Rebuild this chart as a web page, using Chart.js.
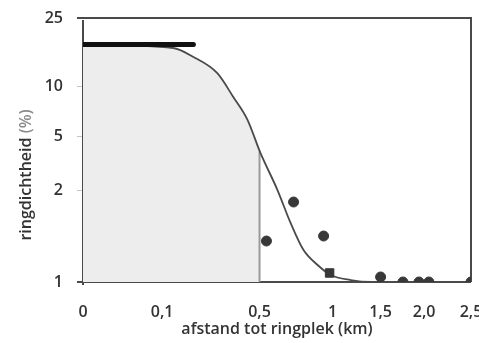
<!DOCTYPE html>
<html>
<head>
<meta charset="utf-8">
<script src="https://cdn.jsdelivr.net/npm/chart.js@4.4.1/dist/chart.umd.min.js"></script>
<style>
  html, body { margin: 0; padding: 0; background: #fff; }
  #wrap { width: 479px; height: 343px; }
</style>
</head>
<body>
<div id="wrap"><canvas id="c"></canvas></div>
<script>
// tick values and labels
const xTicks = [0, 0.1, 0.5, 1, 1.5, 2, 2.5]
const xTickLabels = ['0', '0,1', '0,5', '1', '1,5', '2,0', '2,5']
const yTicks = [1, 2, 5, 10, 25]
const yTickLabels = ['1', '2', '5', '10', '25']

// fitted curve (ringdichtheid vs afstand)
const curveX = [0, 0.13, 0.195, 0.289, 0.362, 0.434, 0.505, 0.607, 0.692, 0.781, 0.884, 0.985, 1.177, 1.389, 2.5]
const curveY = [17.5, 16.7, 14.8, 11.9, 8.6, 6.26, 3.77, 2.03, 1.567, 1.275, 1.138, 1.055, 1.015, 1.0, 1.0]

// thick plateau bar
const barX = [0, 0.195]
const barY = [17.5, 17.5]

// shaded part under the curve up to 0,5 km
const shadeEnd = 0.5
const shadeTop = 3.87

// observed points
const obsX = [0.54, 0.712, 0.93, 0.977, 1.5, 1.748, 1.938, 2.049, 2.5]
const obsY = [1.366, 1.838, 1.419, 1.071, 1.039, 1.0, 1.0, 1.0, 1.0]

const Base = Chart.LinearScale || Chart.registry.getScale('linear')

// scale that follows the hand drawn axis: sqrt (x) or log (y) between anchor ticks
class PiecewiseScale extends Base {
  buildTicks() {
    return this.options.anchors.map(v => ({ value: v }))
  }
  warp(v) {
    return this.options.warp === 'log' ? Math.log(v) : Math.sqrt(Math.max(v, 0))
  }
  toFrac(v) {
    const a = this.options.anchors
    const f = this.options.fracs
    if (v <= a[0]) return f[0]
    for (let i = 1; i < a.length; i++) {
      if (v <= a[i]) {
        const u = (this.warp(v) - this.warp(a[i - 1])) / (this.warp(a[i]) - this.warp(a[i - 1]))
        return f[i - 1] + u * (f[i] - f[i - 1])
      }
    }
    return f[f.length - 1]
  }
  getPixelForValue(v) {
    return this.getPixelForDecimal(this.toFrac(v))
  }
  getValueForPixel(p) {
    const d = this.getDecimalForPixel(p)
    const a = this.options.anchors
    const f = this.options.fracs
    for (let i = 1; i < a.length; i++) {
      if (d <= f[i]) {
        const u = (d - f[i - 1]) / (f[i] - f[i - 1])
        const w = this.warp(a[i - 1]) + u * (this.warp(a[i]) - this.warp(a[i - 1]))
        return this.options.warp === 'log' ? Math.exp(w) : w * w
      }
    }
    return a[a.length - 1]
  }
}
PiecewiseScale.id = 'piecewise'
PiecewiseScale.defaults = Base.defaults
Chart.register(PiecewiseScale)

const pts = (xs, ys) => xs.map((x, i) => ({ x: x, y: ys[i] }))

const shadeData = pts(curveX, curveY).filter(p => p.x < shadeEnd)
shadeData.push({ x: shadeEnd, y: shadeTop })

const frame = {
  id: 'frame',
  beforeDatasetsDraw(chart) {
    const a = chart.chartArea
    const c = chart.ctx
    c.save()
    c.strokeStyle = '#4a4a4a'
    c.lineWidth = 2
    c.beginPath()
    c.moveTo(a.left - 6, a.top); c.lineTo(a.right, a.top); c.lineTo(a.right, a.bottom)
    c.moveTo(a.left - 6, a.bottom); c.lineTo(a.right, a.bottom)
    c.moveTo(a.left, a.top + 2); c.lineTo(a.left, a.bottom + 3)
    c.stroke()
    c.restore()
  }
}

const yTitle = {
  id: 'ytitle',
  afterDraw(chart) {
    const c = chart.ctx
    c.save()
    c.translate(26, 175)
    c.rotate(-Math.PI / 2)
    c.font = '600 16px "Open Sans"'
    c.textBaseline = 'middle'
    const t1 = 'ringdichtheid '
    const t2 = '(%)'
    const w = c.measureText(t1 + t2).width
    const w1 = c.measureText(t1).width
    c.fillStyle = '#333'
    c.fillText(t1, -w / 2, 0)
    c.fillStyle = '#8a8a8a'
    c.fillText(t2, -w / 2 + w1, 0)
    c.restore()
  }
}

new Chart(document.getElementById('c'), {
  type: 'scatter',
  data: {
    datasets: [
      {
        data: pts(obsX, obsY),
        backgroundColor: '#383838',
        borderColor: '#383838',
        pointStyle: ctx => ctx.dataIndex === 3 ? 'rect' : 'circle',
        pointRadius: ctx => ctx.dataIndex === 3 ? 6 : 5,
        order: 1
      },
      {
        data: pts(barX, barY),
        showLine: true,
        borderColor: '#111',
        borderWidth: 5,
        borderCapStyle: 'round',
        pointRadius: 0,
        order: 2
      },
      {
        data: pts(curveX, curveY),
        showLine: true,
        borderColor: '#4a4a4a',
        borderWidth: 1.8,
        cubicInterpolationMode: 'monotone',
        pointRadius: 0,
        order: 3
      },
      {
        data: [{ x: shadeEnd, y: 1 }, { x: shadeEnd, y: shadeTop }],
        showLine: true,
        borderColor: '#9a9a9a',
        borderWidth: 2,
        pointRadius: 0,
        order: 4
      },
      {
        data: shadeData,
        showLine: true,
        borderWidth: 0,
        borderColor: 'rgba(0,0,0,0)',
        backgroundColor: '#ededed',
        fill: 'start',
        cubicInterpolationMode: 'monotone',
        pointRadius: 0,
        order: 5
      }
    ]
  },
  options: {
    responsive: true,
    maintainAspectRatio: false,
    animation: false,
    layout: { padding: { top: 18, right: 8, left: 0, bottom: 0 } },
    plugins: { legend: { display: false }, tooltip: { enabled: false } },
    scales: {
      x: {
        type: 'piecewise',
        min: 0,
        max: 2.5,
        anchors: xTicks,
        fracs: [0, 0.204, 0.455, 0.643, 0.767, 0.879, 1],
        warp: 'sqrt',
        grid: { display: false, drawTicks: false },
        border: { display: false },
        ticks: {
          autoSkip: false,
          maxRotation: 0,
          padding: 21,
          color: '#333',
          font: { family: 'Open Sans', size: 16, weight: '600' },
          callback: (v, i) => xTickLabels[i]
        },
        title: {
          display: true,
          text: 'afstand tot ringplek (km)',
          color: '#333',
          font: { family: 'Open Sans', size: 16, weight: '600' },
          padding: { top: 0, bottom: 4 }
        },
        afterFit: s => { s.height = 61; s.paddingLeft = 0; s.paddingRight = 0 }
      },
      y: {
        type: 'piecewise',
        min: 1,
        max: 25,
        anchors: yTicks,
        fracs: [0, 0.345, 0.553, 0.742, 1],
        warp: 'log',
        grid: { display: true, drawOnChartArea: false, color: '#c4c4c4', tickLength: 6 },
        border: { display: false },
        ticks: {
          autoSkip: false,
          padding: 14,
          color: '#333',
          font: { family: 'Open Sans', size: 16, weight: '600' },
          callback: (v, i) => yTickLabels[i]
        },
        afterFit: s => { s.width = 83; s.paddingTop = 0; s.paddingBottom = 0 }
      }
    }
  },
  plugins: [frame, yTitle]
})
</script>
</body>
</html>
